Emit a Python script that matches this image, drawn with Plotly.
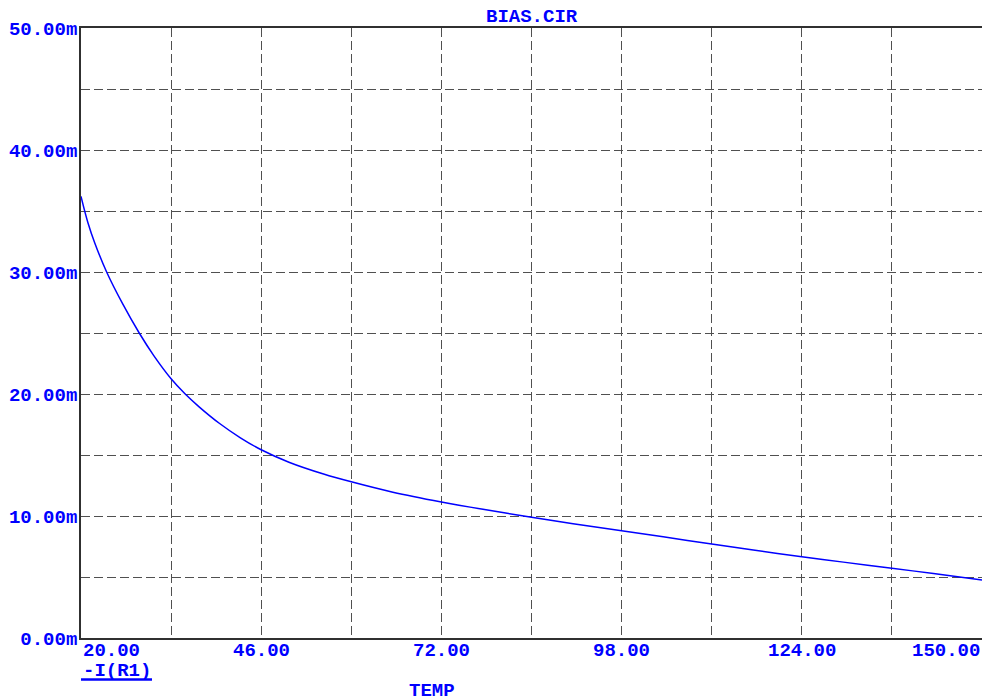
import plotly.graph_objects as go

# Data (TEMP in degC, -I(R1) in mA)
temp = [20, 21, 22, 23.7, 26, 28.4, 30.5, 33, 35, 37, 40, 43, 46, 50, 55, 59, 65,
        72, 78, 85, 91, 98, 104, 111, 117, 124, 130, 137, 143, 150]
current_ma = [36.2, 34.04, 32.36, 30.0, 27.4, 25.0, 23.15, 21.25, 20.02, 18.97, 17.58, 16.41,
              15.43, 14.41, 13.44, 12.8, 11.95, 11.15, 10.55, 9.9, 9.37, 8.8, 8.29, 7.7,
              7.21, 6.66, 6.22, 5.72, 5.28, 4.75]

x_grid = [33, 46, 59, 72, 85, 98, 111, 124, 137]
x_label_vals = [20, 46, 72, 98, 124, 150]
x_label_text = ["20.00", "46.00", "72.00", "98.00", "124.00", "150.00"]
y_grid = [0, 5, 10, 15, 20, 25, 30, 35, 40, 45, 50]
y_grid_text = ["0.00m", "", "10.00m", "", "20.00m", "", "30.00m", "", "40.00m", "", "50.00m"]

title_text = "BIAS.CIR"
x_title = "TEMP"
trace_name = "-I(R1)"

BLUE = "#0000ff"
FONT = "Liberation Mono"
FS = 19


def b(t):
    return "<b>" + t + "</b>" if t else ""


fig = go.Figure()
fig.add_trace(go.Scatter(x=temp, y=current_ma, mode="lines",
                         line=dict(color=BLUE, width=1.5, shape="spline", smoothing=1.0),
                         name=trace_name, showlegend=False, hoverinfo="skip"))

fig.update_layout(
    width=982, height=697, autosize=False,
    margin=dict(l=81, r=0, t=28, b=59),
    paper_bgcolor="white", plot_bgcolor="white",
    font=dict(family=FONT, size=FS, color=BLUE),
    showlegend=False,
)
fig.update_xaxes(
    range=[20, 150], tickvals=x_grid, ticktext=["" for _ in x_grid],
    showgrid=True, gridcolor="#505050", gridwidth=1.3, griddash="9px,4px",
    showline=True, linecolor="#303030", linewidth=1.8, mirror=True,
    ticks="", zeroline=False,
)
fig.update_yaxes(
    range=[0, 50], tickvals=y_grid, ticktext=[b(t) for t in y_grid_text],
    showgrid=True, gridcolor="#505050", gridwidth=1.3, griddash="9px,4px",
    showline=True, linecolor="#303030", linewidth=1.8, mirror=False,
    ticks="", zeroline=False, ticklabelstandoff=-2,
    tickfont=dict(family=FONT, size=FS, color=BLUE),
)

annos = []
for i, (v, t) in enumerate(zip(x_label_vals, x_label_text)):
    anc = "left" if i == 0 else ("right" if i == len(x_label_vals) - 1 else "center")
    annos.append(dict(x=v, xref="x", y=0, yref="paper", text=b(t), showarrow=False,
                      xanchor=anc, yanchor="middle", yshift=-12.5,
                      font=dict(family=FONT, size=FS, color=BLUE)))
annos.append(dict(x=20, xref="x", y=0, yref="paper", text=b(trace_name), showarrow=False,
                  xanchor="left", yanchor="middle", yshift=-33,
                  font=dict(family=FONT, size=FS, color=BLUE)))
annos.append(dict(x=0.39, xref="paper", y=0, yref="paper", text=b(x_title), showarrow=False,
                  xanchor="center", yanchor="middle", yshift=-53,
                  font=dict(family=FONT, size=FS, color=BLUE)))
annos.append(dict(x=0.5, xref="paper", y=1, yref="paper", text=b(title_text), showarrow=False,
                  xanchor="center", yanchor="middle", yshift=11.5,
                  font=dict(family=FONT, size=FS, color=BLUE)))
fig.update_layout(annotations=annos)

fig.add_shape(type="line", xref="x", xsizemode="pixel", xanchor=20, x0=0, x1=71,
              yref="paper", ysizemode="pixel", yanchor=0, y0=-41.5, y1=-41.5,
              line=dict(color=BLUE, width=2.5))

fig.write_html(
    "out.html",
    config={"displayModeBar": False},
    post_script="document.body.style.margin='0';document.body.style.overflow='hidden';"
                "document.documentElement.style.overflow='hidden';",
)
